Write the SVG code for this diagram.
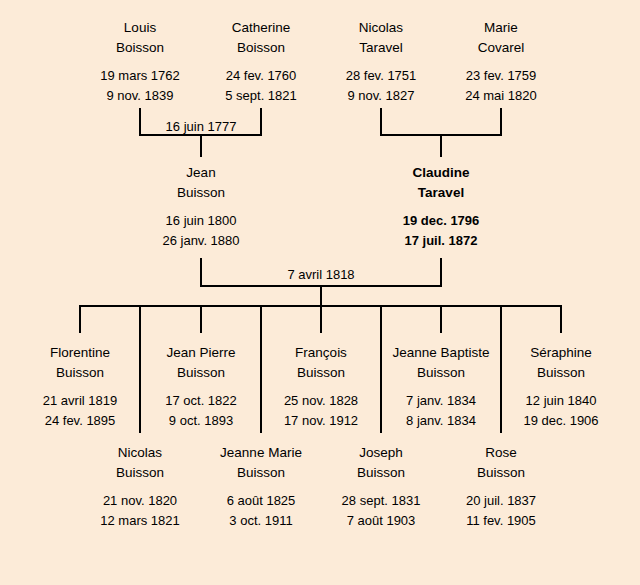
<svg xmlns="http://www.w3.org/2000/svg" width="640" height="585" viewBox="0 0 640 585">
<style>
text{font-family:"Liberation Sans",Arial,sans-serif;fill:#000;text-anchor:middle}
.n{font-size:13.5px}
.d{font-size:13px}
.b{font-weight:bold}
.c{stroke:#000;stroke-width:2;fill:none}
</style>
<rect width="640" height="585" fill="#FCEBD8"/>
<g id="connectors" class="c">
<path d="M140 108V135H261V108M201 135V157"/>
<path d="M381 108V135H501V108M441 135V157"/>
<path d="M201 258V286H441V258M321 286V306"/>
<path d="M80 333V306H561V333"/>
<path d="M201 306V333M321 306V333M441 306V333"/>
<path d="M140 306V433M261 306V433M381 306V433M501 306V433"/>
</g>
<g id="marriage-labels">
<text class="d" x="201" y="131">16 juin 1777</text>
<text class="d" x="321" y="279">7 avril 1818</text>
</g>
<g id="louis"><text class="n" x="140" y="32">Louis</text><text class="n" x="140" y="52">Boisson</text><text class="d" x="140" y="80">19 mars 1762</text><text class="d" x="140" y="100">9 nov. 1839</text></g>
<g id="catherine"><text class="n" x="261" y="32">Catherine</text><text class="n" x="261" y="52">Boisson</text><text class="d" x="261" y="80">24 fev. 1760</text><text class="d" x="261" y="100">5 sept. 1821</text></g>
<g id="nicolas-t"><text class="n" x="381" y="32">Nicolas</text><text class="n" x="381" y="52">Taravel</text><text class="d" x="381" y="80">28 fev. 1751</text><text class="d" x="381" y="100">9 nov. 1827</text></g>
<g id="marie"><text class="n" x="501" y="32">Marie</text><text class="n" x="501" y="52">Covarel</text><text class="d" x="501" y="80">23 fev. 1759</text><text class="d" x="501" y="100">24 mai 1820</text></g>
<g id="jean"><text class="n" x="201" y="177">Jean</text><text class="n" x="201" y="197">Buisson</text><text class="d" x="201" y="225">16 juin 1800</text><text class="d" x="201" y="245">26 janv. 1880</text></g>
<g id="claudine" class="b"><text class="n b" x="441" y="177">Claudine</text><text class="n b" x="441" y="197">Taravel</text><text class="d b" x="441" y="225">19 dec. 1796</text><text class="d b" x="441" y="245">17 juil. 1872</text></g>
<g id="florentine"><text class="n" x="80" y="357">Florentine</text><text class="n" x="80" y="377">Buisson</text><text class="d" x="80" y="405">21 avril 1819</text><text class="d" x="80" y="425">24 fev. 1895</text></g>
<g id="jean-pierre"><text class="n" x="201" y="357">Jean Pierre</text><text class="n" x="201" y="377">Buisson</text><text class="d" x="201" y="405">17 oct. 1822</text><text class="d" x="201" y="425">9 oct. 1893</text></g>
<g id="francois"><text class="n" x="321" y="357">François</text><text class="n" x="321" y="377">Buisson</text><text class="d" x="321" y="405">25 nov. 1828</text><text class="d" x="321" y="425">17 nov. 1912</text></g>
<g id="jeanne-baptiste"><text class="n" x="441" y="357">Jeanne Baptiste</text><text class="n" x="441" y="377">Buisson</text><text class="d" x="441" y="405">7 janv. 1834</text><text class="d" x="441" y="425">8 janv. 1834</text></g>
<g id="seraphine"><text class="n" x="561" y="357">Séraphine</text><text class="n" x="561" y="377">Buisson</text><text class="d" x="561" y="405">12 juin 1840</text><text class="d" x="561" y="425">19 dec. 1906</text></g>
<g id="nicolas-b"><text class="n" x="140" y="457">Nicolas</text><text class="n" x="140" y="477">Buisson</text><text class="d" x="140" y="505">21 nov. 1820</text><text class="d" x="140" y="525">12 mars 1821</text></g>
<g id="jeanne-marie"><text class="n" x="261" y="457">Jeanne Marie</text><text class="n" x="261" y="477">Buisson</text><text class="d" x="261" y="505">6 août 1825</text><text class="d" x="261" y="525">3 oct. 1911</text></g>
<g id="joseph"><text class="n" x="381" y="457">Joseph</text><text class="n" x="381" y="477">Buisson</text><text class="d" x="381" y="505">28 sept. 1831</text><text class="d" x="381" y="525">7 août 1903</text></g>
<g id="rose"><text class="n" x="501" y="457">Rose</text><text class="n" x="501" y="477">Buisson</text><text class="d" x="501" y="505">20 juil. 1837</text><text class="d" x="501" y="525">11 fev. 1905</text></g>
</svg>
